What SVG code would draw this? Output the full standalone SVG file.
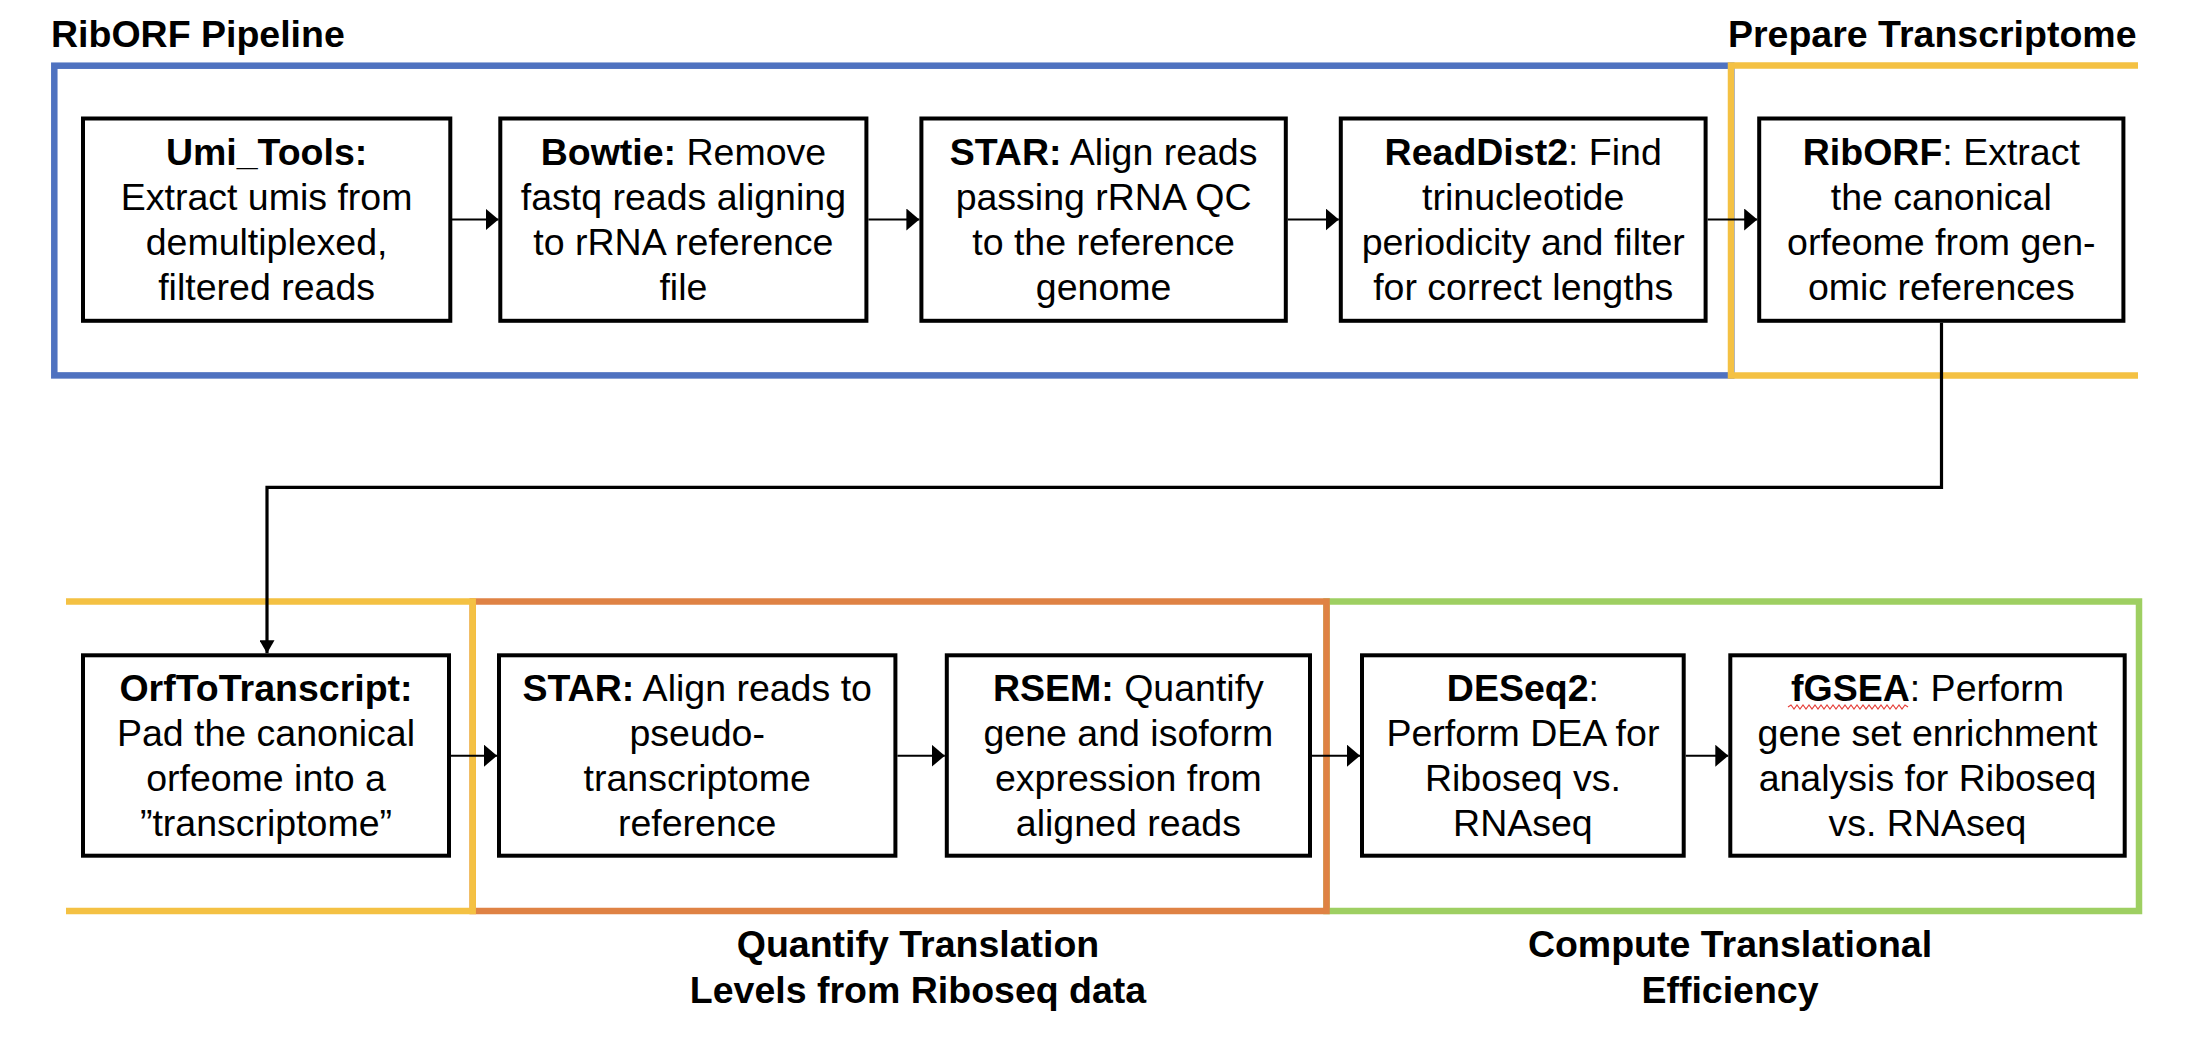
<svg xmlns="http://www.w3.org/2000/svg" width="2198" height="1046" viewBox="0 0 2198 1046">
<style>
text{font-family:"Liberation Sans",Arial,Helvetica,sans-serif;font-size:37.5px;fill:#000;text-anchor:middle}
.b{font-weight:bold}
.ttl{font-weight:bold;text-anchor:start}
.box{fill:#fff;stroke:#000;stroke-width:4}
.frame{fill:none;stroke-width:6.5}
.conn{fill:none;stroke:#000;stroke-width:2}
.elbow{fill:none;stroke:#000;stroke-width:3.2}
</style>
<defs>
<marker id="ah" viewBox="0 0 13 22" refX="13" refY="11" markerWidth="13" markerHeight="22" markerUnits="userSpaceOnUse" orient="auto"><path d="M0,0 L13,11 L0,22 z" fill="#000"/></marker>
<marker id="ahs" viewBox="0 0 13 15" refX="13" refY="7.5" markerWidth="13" markerHeight="15" markerUnits="userSpaceOnUse" orient="auto"><path d="M0,0 L13,7.5 L0,15 z" fill="#000"/></marker>
</defs>
<rect width="2198" height="1046" fill="#fff"/>

<g id="frames">
<g id="frame-riborf-pipeline"><rect class="frame" x="54.3" y="65.7" width="1677" height="309.7" stroke="#4F72C0"/></g>
<g id="frame-compute-te"><rect class="frame" x="1326.5" y="601.5" width="812.5" height="309.5" stroke="#9ECF62"/></g>
<g id="frame-quantify"><rect class="frame" x="472.7" y="601.5" width="853.8" height="309.5" stroke="#DF8244"/></g>
<g id="frame-prepare-top"><path class="frame" d="M2138,65.5 H1731 V375.5 H2138" stroke="#F4C143"/></g>
<g id="frame-prepare-bottom"><path class="frame" d="M66,601.5 H472.7 V911 H66" stroke="#F4C143"/></g>
</g>

<g id="titles">
<text class="ttl" x="51" y="47">RibORF Pipeline</text>
<text class="ttl" x="1728" y="47">Prepare Transcriptome</text>
<text class="b" x="918" y="957">Quantify Translation</text>
<text class="b" x="918" y="1003">Levels from Riboseq data</text>
<text class="b" x="1730" y="957">Compute Translational</text>
<text class="b" x="1730" y="1003">Efficiency</text>
</g>

<g id="connectors">
<line class="conn" x1="451" y1="219.5" x2="498.5" y2="219.5" marker-end="url(#ah)"/>
<line class="conn" x1="868.4" y1="219.5" x2="919.4" y2="219.5" marker-end="url(#ah)"/>
<line class="conn" x1="1287.8" y1="219.5" x2="1338.8" y2="219.5" marker-end="url(#ah)"/>
<line class="conn" x1="1707.6" y1="219.5" x2="1757.2" y2="219.5" marker-end="url(#ah)"/>
<path class="elbow" d="M1941.5,322.7 V487.3 H267 V653.3" marker-end="url(#ahs)"/>
<line class="conn" x1="451" y1="755.7" x2="497" y2="755.7" marker-end="url(#ah)"/>
<line class="conn" x1="897.4" y1="755.7" x2="944.8" y2="755.7" marker-end="url(#ah)"/>
<line class="conn" x1="1312" y1="755.7" x2="1360" y2="755.7" marker-end="url(#ah)"/>
<line class="conn" x1="1685.7" y1="755.7" x2="1728.3" y2="755.7" marker-end="url(#ah)"/>
</g>

<g id="node-umi-tools">
<rect class="box" x="83" y="118.5" width="367.3" height="202.3"/>
<text x="266.6" y="164.5"><tspan class="b">Umi_Tools:</tspan></text>
<text x="266.6" y="209.5">Extract umis from</text>
<text x="266.6" y="254.5">demultiplexed,</text>
<text x="266.6" y="299.5">filtered reads</text>
</g>

<g id="node-bowtie">
<rect class="box" x="500.3" y="118.5" width="366.1" height="202.3"/>
<text x="683.4" y="164.5"><tspan class="b">Bowtie:</tspan> Remove</text>
<text x="683.4" y="209.5">fastq reads aligning</text>
<text x="683.4" y="254.5">to rRNA reference</text>
<text x="683.4" y="299.5">file</text>
</g>

<g id="node-star-genome">
<rect class="box" x="921.4" y="118.5" width="364.4" height="202.3"/>
<text x="1103.6" y="164.5"><tspan class="b">STAR:</tspan> Align reads</text>
<text x="1103.6" y="209.5">passing rRNA QC</text>
<text x="1103.6" y="254.5">to the reference</text>
<text x="1103.6" y="299.5">genome</text>
</g>

<g id="node-readdist2">
<rect class="box" x="1340.8" y="118.5" width="364.8" height="202.3"/>
<text x="1523.2" y="164.5"><tspan class="b">ReadDist2</tspan>: Find</text>
<text x="1523.2" y="209.5">trinucleotide</text>
<text x="1523.2" y="254.5">periodicity and filter</text>
<text x="1523.2" y="299.5">for correct lengths</text>
</g>

<g id="node-riborf">
<rect class="box" x="1759.2" y="118.5" width="364.2" height="202.3"/>
<text x="1941.3" y="164.5"><tspan class="b">RibORF</tspan>: Extract</text>
<text x="1941.3" y="209.5">the canonical</text>
<text x="1941.3" y="254.5">orfeome from gen-</text>
<text x="1941.3" y="299.5">omic references</text>
</g>

<g id="node-orftotranscript">
<rect class="box" x="83" y="655.3" width="366" height="200.4"/>
<text x="266" y="700.5"><tspan class="b">OrfToTranscript:</tspan></text>
<text x="266" y="745.5">Pad the canonical</text>
<text x="266" y="790.5">orfeome into a</text>
<text x="266" y="835.5">”transcriptome”</text>
</g>

<g id="node-star-pseudo">
<rect class="box" x="499" y="655.3" width="396.4" height="200.4"/>
<text x="697.2" y="700.5"><tspan class="b">STAR:</tspan> Align reads to</text>
<text x="697.2" y="745.5">pseudo-</text>
<text x="697.2" y="790.5">transcriptome</text>
<text x="697.2" y="835.5">reference</text>
</g>

<g id="node-rsem">
<rect class="box" x="946.8" y="655.3" width="363.2" height="200.4"/>
<text x="1128.4" y="700.5"><tspan class="b">RSEM:</tspan> Quantify</text>
<text x="1128.4" y="745.5">gene and isoform</text>
<text x="1128.4" y="790.5">expression from</text>
<text x="1128.4" y="835.5">aligned reads</text>
</g>

<g id="node-deseq2">
<rect class="box" x="1362" y="655.3" width="321.7" height="200.4"/>
<text x="1522.9" y="700.5"><tspan class="b">DESeq2</tspan>:</text>
<text x="1522.9" y="745.5">Perform DEA for</text>
<text x="1522.9" y="790.5">Riboseq vs.</text>
<text x="1522.9" y="835.5">RNAseq</text>
</g>

<g id="node-fgsea">
<rect class="box" x="1730.3" y="655.3" width="394.4" height="200.4"/>
<text x="1927.5" y="700.5"><tspan class="b">fGSEA</tspan>: Perform</text>
<polyline fill="none" stroke="#E5403A" stroke-width="1.2" points="1788,707 1791,705 1794,709 1797,705 1800,709 1803,705 1806,709 1809,705 1812,709 1815,705 1818,709 1821,705 1824,709 1827,705 1830,709 1833,705 1836,709 1839,705 1842,709 1845,705 1848,709 1851,705 1854,709 1857,705 1860,709 1863,705 1866,709 1869,705 1872,709 1875,705 1878,709 1881,705 1884,709 1887,705 1890,709 1893,705 1896,709 1899,705 1902,709 1905,705 1908,707"/>
<text x="1927.5" y="745.5">gene set enrichment</text>
<text x="1927.5" y="790.5">analysis for Riboseq</text>
<text x="1927.5" y="835.5">vs. RNAseq</text>
</g>
</svg>
